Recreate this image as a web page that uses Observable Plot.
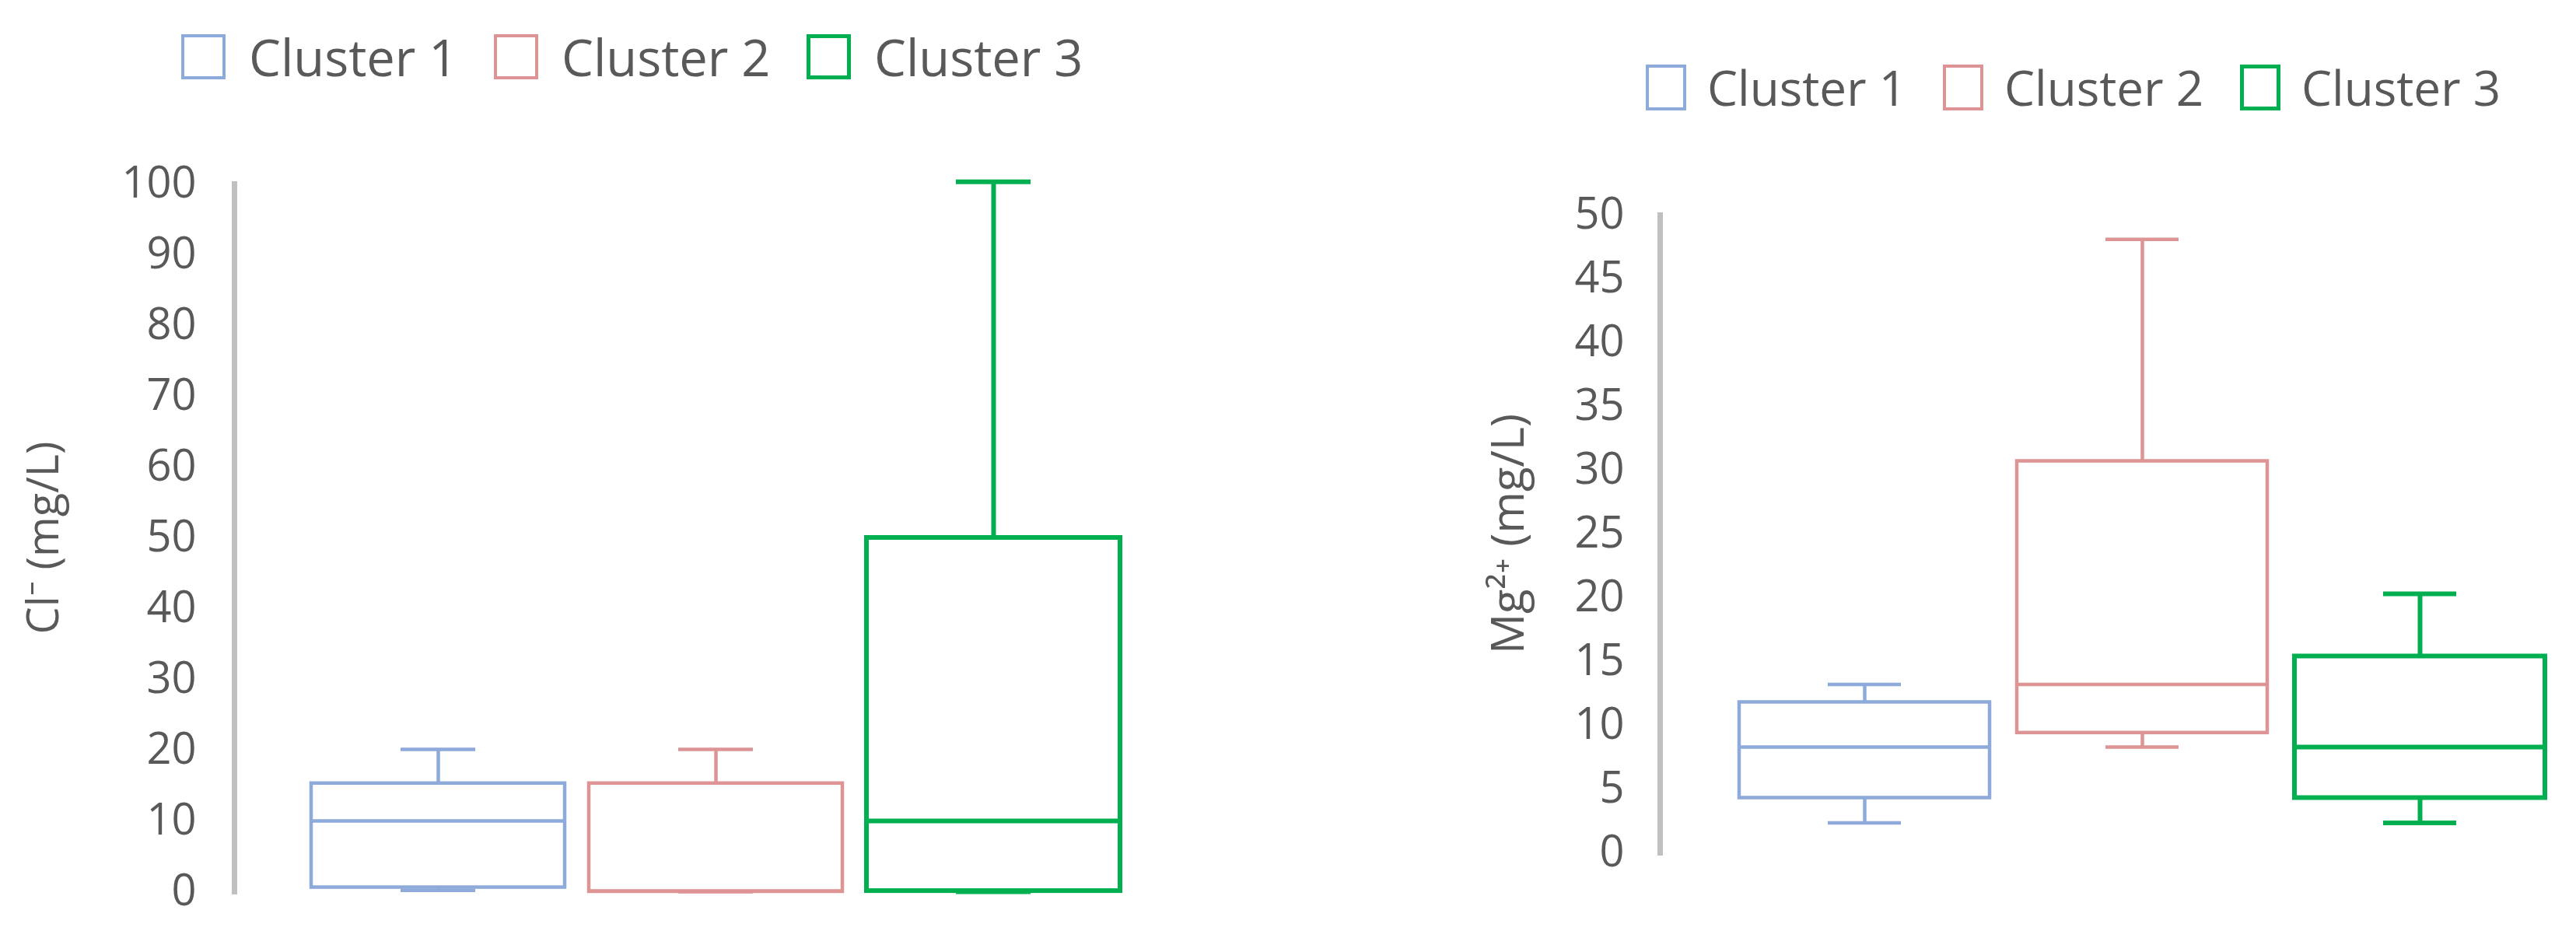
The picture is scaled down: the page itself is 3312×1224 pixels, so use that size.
<!DOCTYPE html>
<html>
<head>
<meta charset="utf-8">
<script src="https://cdn.jsdelivr.net/npm/d3@7"></script>
<script src="https://cdn.jsdelivr.net/npm/@observablehq/plot@0.6"></script>
<style>
  html, body { margin: 0; padding: 0; background: #ffffff; }
  #page { position: relative; width: 3312px; height: 1224px; overflow: hidden; background: #fff;
          font-family: "Open Sans", "Noto Sans", sans-serif; color: #595959; }
  .legend { position: absolute; display: flex; align-items: center; white-space: nowrap; line-height: 1; }
  .legend .sw { box-sizing: border-box; background: #fff; }
  .chart { position: absolute; }
</style>
</head>
<body>
<div id="page"></div>
<script>
// ---- data ----
const clusters = ["Cluster 1", "Cluster 2", "Cluster 3"];
const colors = ["#8eaadb", "#de9494", "#00b050"];

// Cl- (mg/L) box statistics per cluster
const clMin    = [0.2, 0.0, 0.0];
const clQ1     = [0.6, 0.0, 0.1];
const clMedian = [10.0, 0.1, 10.0];
const clQ3     = [15.3, 15.3, 50.0];
const clMax    = [20.1, 20.1, 100.3];
const clTicks  = [0, 10, 20, 30, 40, 50, 60, 70, 80, 90, 100];

// Mg2+ (mg/L) box statistics per cluster
const mgMin    = [2.35, 8.3, 2.35];
const mgQ1     = [4.3, 9.4, 4.3];
const mgMedian = [8.3, 13.2, 8.3];
const mgQ3     = [11.8, 30.7, 15.4];
const mgMax    = [13.2, 48.1, 20.3];
const mgTicks  = [0, 5, 10, 15, 20, 25, 30, 35, 40, 45, 50];

const page = document.getElementById("page");

function table(mins, q1s, meds, q3s, maxs) {
  return clusters.map((c, i) => ({cluster: c, min: mins[i], q1: q1s[i], median: meds[i], q3: q3s[i], max: maxs[i]}));
}

function legend(left, centerY, sw, sh, fontSize, gap, step) {
  clusters.forEach((c, i) => {
    const it = document.createElement("div");
    it.className = "legend";
    it.style.left = (left + i * step) + "px";
    it.style.top = (centerY - sh / 2) + "px";
    it.style.height = sh + "px";
    it.style.fontSize = fontSize + "px";
    const s = document.createElement("div");
    s.className = "sw";
    s.style.width = sw + "px";
    s.style.height = sh + "px";
    s.style.border = (i === 2 ? 5 : 4) + "px solid " + colors[i];
    s.style.marginRight = gap + "px";
    const t = document.createElement("span");
    t.textContent = c;
    it.appendChild(s); it.appendChild(t);
    page.appendChild(it);
  });
}

function chart(opts) {
  const data = table(...opts.stats);
  const sw = d => d.cluster === "Cluster 3" ? 6 : 4.5;
  const p = Plot.plot({
    width: opts.width,
    height: opts.height,
    marginLeft: opts.marginLeft,
    marginTop: opts.marginTop,
    marginBottom: opts.marginBottom,
    marginRight: 20,
    style: {fontFamily: '"Open Sans", "Noto Sans", sans-serif', color: "#595959", background: "transparent", overflow: "visible"},
    x: {type: "band", domain: clusters, range: opts.xRange, paddingInner: opts.padIn, paddingOuter: 0, axis: null},
    y: {domain: opts.yDomain, ticks: opts.ticks},
    color: {domain: clusters, range: colors},
    marks: [
      Plot.frame({anchor: "left", stroke: "#c0c0c0", strokeWidth: 7}),
      Plot.axisY({ticks: opts.ticks, tickSize: 0, tickPadding: opts.tickPad, fontSize: opts.tickFont, fill: "#595959", label: null}),
      Plot.axisY({ticks: opts.ticks, tickSize: 0, tickFormat: () => "", fontSize: opts.labelFont, fill: "#595959",
                  label: opts.label, labelAnchor: "center", labelOffset: opts.labelOffset, labelArrow: "none"}),
      Plot.ruleX(data, {x: "cluster", y1: "q3", y2: "max", stroke: "cluster", strokeWidth: sw}),
      Plot.ruleX(data, {x: "cluster", y1: "min", y2: "q1", stroke: "cluster", strokeWidth: sw}),
      Plot.tickY(data, {x: "cluster", y: "max", stroke: "cluster", strokeWidth: sw, insetLeft: opts.capInset, insetRight: opts.capInset}),
      Plot.tickY(data, {x: "cluster", y: "min", stroke: "cluster", strokeWidth: sw, insetLeft: opts.capInset, insetRight: opts.capInset}),
      Plot.barY(data, {x: "cluster", y1: "q1", y2: "q3", fill: "none", stroke: "cluster", strokeWidth: sw}),
      Plot.tickY(data, {x: "cluster", y: "median", stroke: "cluster", strokeWidth: sw})
    ]
  });
  const wrap = document.createElement("div");
  wrap.className = "chart";
  wrap.style.left = opts.left + "px";
  wrap.style.top = opts.top + "px";
  wrap.appendChild(p);
  page.appendChild(wrap);
}

// Left chart: Cl-
legend(233, 73, 57, 58, 65, 30, 402);
chart({
  stats: [clMin, clQ1, clMedian, clQ3, clMax],
  left: 0, top: 150, width: 1600, height: 1074,
  marginLeft: 301, marginTop: 86, marginBottom: 78,
  xRange: [400, 1440], padIn: 0.087, capInset: 115,
  yDomain: [0, 100], ticks: clTicks, tickPad: 49, tickFont: 56,
  label: "Cl⁻ (mg/L)", labelOffset: 266, labelFont: 56
});

// Right chart: Mg2+
legend(2116, 112, 52, 59, 62, 27, 382);
chart({
  stats: [mgMin, mgQ1, mgMedian, mgQ3, mgMax],
  left: 1700, top: 180, width: 1612, height: 1044,
  marginLeft: 434, marginTop: 96, marginBottom: 128,
  xRange: [535, 1573], padIn: 0.097, capInset: 114,
  yDomain: [0, 50], ticks: mgTicks, tickPad: 46, tickFont: 56,
  label: "Mg²⁺ (mg/L)", labelOffset: 217, labelFont: 58
});
</script>
</body>
</html>
